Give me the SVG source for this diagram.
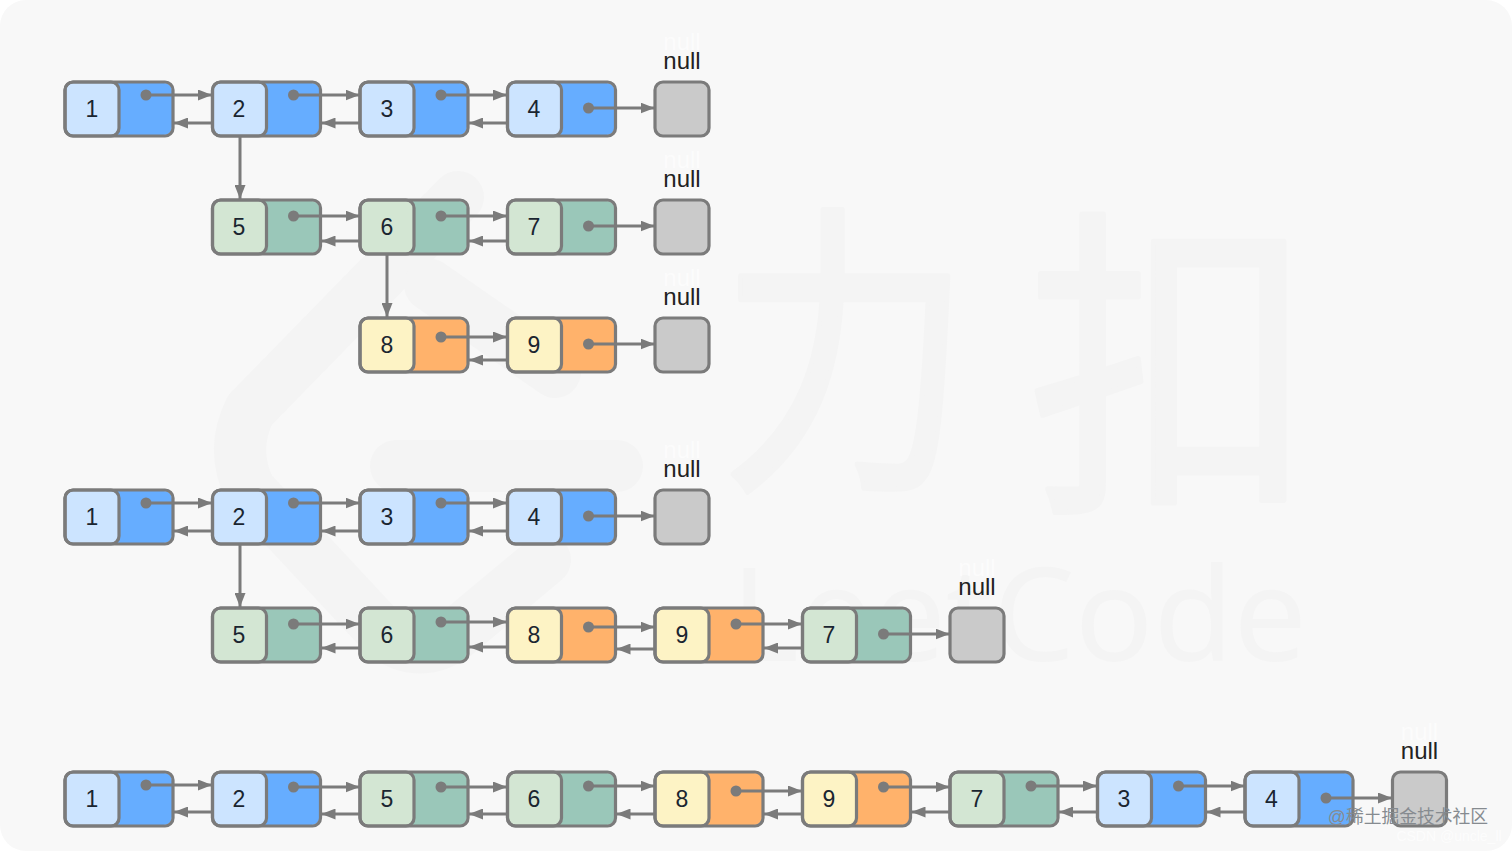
<svg xmlns="http://www.w3.org/2000/svg" xmlns:xlink="http://www.w3.org/1999/xlink" width="1512" height="851" viewBox="0 0 1512 851">
<style>
.wm{fill:none;stroke:#f4f4f4;stroke-width:52;stroke-linecap:round;stroke-linejoin:round}
.wt{fill:#f4f4f4;stroke:#f4f4f4;stroke-width:5;stroke-linejoin:round;font-family:"Noto Sans CJK SC","Noto Sans",sans-serif}
.wl{fill:#f4f4f4;font-family:"Noto Sans","Liberation Sans",sans-serif}
.o{fill:none;stroke:#7b7b7b;stroke-width:3.2}
.bl{fill:#66adff}.bll{fill:#cce4ff}
.gr{fill:#9ac7b9}.grl{fill:#d3e6d3}
.or{fill:#ffb26b}.orl{fill:#fdf3c5}
.nl{fill:#cacaca}
.n{font-family:"Liberation Sans",Arial,sans-serif;font-size:23px;fill:#1a2530;text-anchor:middle}
.t{font-family:"Liberation Sans",Arial,sans-serif;font-size:24px;fill:#222;text-anchor:middle}
.g{font-family:"Liberation Sans",Arial,sans-serif;font-size:24px;fill:#fff;text-anchor:middle;opacity:.6}
.c{fill:none;stroke:#7b7b7b;stroke-width:3;marker-end:url(#a)}
.d{fill:#7b7b7b}
</style>
<defs>
<marker id="a" markerUnits="userSpaceOnUse" markerWidth="15" markerHeight="11" refX="14" refY="5.500" orient="auto"><path d="M0 0L14 5.500L0 11Z" fill="#7b7b7b"/></marker>
<g id="blue"><rect class="bl" x="1" y="1" width="106" height="52" rx="8"/><rect class="bll" x="1" y="1" width="53" height="52" rx="8"/><rect class="o" x="0" y="0" width="108" height="54" rx="8"/><rect class="o" x="0" y="0" width="54" height="54" rx="8"/></g>
<g id="green"><rect class="gr" x="1" y="1" width="106" height="52" rx="8"/><rect class="grl" x="1" y="1" width="53" height="52" rx="8"/><rect class="o" x="0" y="0" width="108" height="54" rx="8"/><rect class="o" x="0" y="0" width="54" height="54" rx="8"/></g>
<g id="orange"><rect class="or" x="1" y="1" width="106" height="52" rx="8"/><rect class="orl" x="1" y="1" width="53" height="52" rx="8"/><rect class="o" x="0" y="0" width="108" height="54" rx="8"/><rect class="o" x="0" y="0" width="54" height="54" rx="8"/></g>
<g id="nullbox"><rect class="nl" x="0" y="0" width="54" height="54" rx="8"/><rect class="o" x="0" y="0" width="54" height="54" rx="8"/></g>
</defs>
<rect width="1512" height="851" fill="#fff"/>
<rect width="1512" height="851" rx="26" fill="#f8f8f8"/>
<g id="watermark">
<path class="wm" d="M458 197L250 410Q230 450 250 490L385 635Q420 660 455 635L545 560"/>
<path class="wm" d="M430 285L555 372"/>
<path class="wm" d="M396 466H617"/>
<text class="wt" transform="translate(719.500 466.500) scale(.9 1.094)" font-size="280">力</text>
<text class="wt" transform="translate(1028 486.500) scale(1.02 1.157)" font-size="280">扣</text>
<text class="wl" x="731" y="661" font-size="130">LeetCode</text>
</g>
<g id="n-a1"><use xlink:href="#blue" x="65" y="82"/><text class="n" x="92" y="116.800">1</text></g>
<g id="n-a2"><use xlink:href="#blue" x="212.500" y="82"/><text class="n" x="239" y="116.800">2</text></g>
<g id="n-a3"><use xlink:href="#blue" x="360" y="82"/><text class="n" x="387" y="116.800">3</text></g>
<g id="n-a4"><use xlink:href="#blue" x="507.500" y="82"/><text class="n" x="534" y="116.800">4</text></g>
<g id="n-a0"><use xlink:href="#nullbox" x="655" y="82"/><text class="g" x="682" y="50">null</text><text class="t" x="682" y="69">null</text></g>
<g id="n-b5"><use xlink:href="#green" x="212.500" y="200"/><text class="n" x="239" y="234.800">5</text></g>
<g id="n-b6"><use xlink:href="#green" x="360" y="200"/><text class="n" x="387" y="234.800">6</text></g>
<g id="n-b7"><use xlink:href="#green" x="507.500" y="200"/><text class="n" x="534" y="234.800">7</text></g>
<g id="n-b0"><use xlink:href="#nullbox" x="655" y="200"/><text class="g" x="682" y="168">null</text><text class="t" x="682" y="187">null</text></g>
<g id="n-c8"><use xlink:href="#orange" x="360" y="318"/><text class="n" x="387" y="352.800">8</text></g>
<g id="n-c9"><use xlink:href="#orange" x="507.500" y="318"/><text class="n" x="534" y="352.800">9</text></g>
<g id="n-c0"><use xlink:href="#nullbox" x="655" y="318"/><text class="g" x="682" y="286">null</text><text class="t" x="682" y="305">null</text></g>
<g id="n-d1"><use xlink:href="#blue" x="65" y="490"/><text class="n" x="92" y="524.800">1</text></g>
<g id="n-d2"><use xlink:href="#blue" x="212.500" y="490"/><text class="n" x="239" y="524.800">2</text></g>
<g id="n-d3"><use xlink:href="#blue" x="360" y="490"/><text class="n" x="387" y="524.800">3</text></g>
<g id="n-d4"><use xlink:href="#blue" x="507.500" y="490"/><text class="n" x="534" y="524.800">4</text></g>
<g id="n-d0"><use xlink:href="#nullbox" x="655" y="490"/><text class="g" x="682" y="458">null</text><text class="t" x="682" y="477">null</text></g>
<g id="n-e5"><use xlink:href="#green" x="212.500" y="608"/><text class="n" x="239" y="642.800">5</text></g>
<g id="n-e6"><use xlink:href="#green" x="360" y="608"/><text class="n" x="387" y="642.800">6</text></g>
<g id="n-e8"><use xlink:href="#orange" x="507.500" y="608"/><text class="n" x="534" y="642.800">8</text></g>
<g id="n-e9"><use xlink:href="#orange" x="655" y="608"/><text class="n" x="682" y="642.800">9</text></g>
<g id="n-e7"><use xlink:href="#green" x="802.500" y="608"/><text class="n" x="829" y="642.800">7</text></g>
<g id="n-e0"><use xlink:href="#nullbox" x="950" y="608"/><text class="g" x="977" y="576">null</text><text class="t" x="977" y="595">null</text></g>
<g id="n-f1"><use xlink:href="#blue" x="65" y="772"/><text class="n" x="92" y="806.800">1</text></g>
<g id="n-f2"><use xlink:href="#blue" x="212.500" y="772"/><text class="n" x="239" y="806.800">2</text></g>
<g id="n-f5"><use xlink:href="#green" x="360" y="772"/><text class="n" x="387" y="806.800">5</text></g>
<g id="n-f6"><use xlink:href="#green" x="507.500" y="772"/><text class="n" x="534" y="806.800">6</text></g>
<g id="n-f8"><use xlink:href="#orange" x="655" y="772"/><text class="n" x="682" y="806.800">8</text></g>
<g id="n-f9"><use xlink:href="#orange" x="802.500" y="772"/><text class="n" x="829" y="806.800">9</text></g>
<g id="n-f7"><use xlink:href="#green" x="950" y="772"/><text class="n" x="977" y="806.800">7</text></g>
<g id="n-f3"><use xlink:href="#blue" x="1097.500" y="772"/><text class="n" x="1124" y="806.800">3</text></g>
<g id="n-f4"><use xlink:href="#blue" x="1245" y="772"/><text class="n" x="1271.500" y="806.800">4</text></g>
<g id="n-f0"><use xlink:href="#nullbox" x="1392.500" y="772"/><text class="g" x="1419.500" y="740">null</text><text class="t" x="1419.500" y="759">null</text></g>
<g id="connectors">
<path class="c" d="M146 95H212"/><circle class="d" cx="146" cy="95" r="5.500"/><path class="c" d="M212 123H174"/>
<path class="c" d="M293.500 95H359.500"/><circle class="d" cx="293.500" cy="95" r="5.500"/><path class="c" d="M359.500 123H321.500"/>
<path class="c" d="M441 95H507"/><circle class="d" cx="441" cy="95" r="5.500"/><path class="c" d="M507 123H469"/>
<path class="c" d="M588.500 108H654.500"/><circle class="d" cx="588.500" cy="108" r="5.500"/>
<path class="c" d="M240 136V199"/>
<path class="c" d="M293.500 216H359.500"/><circle class="d" cx="293.500" cy="216" r="5.500"/><path class="c" d="M359.500 241H321.500"/>
<path class="c" d="M441 216H507"/><circle class="d" cx="441" cy="216" r="5.500"/><path class="c" d="M507 241H469"/>
<path class="c" d="M588.500 226H654.500"/><circle class="d" cx="588.500" cy="226" r="5.500"/>
<path class="c" d="M387 254V317"/>
<path class="c" d="M441 337H507"/><circle class="d" cx="441" cy="337" r="5.500"/><path class="c" d="M507 360H469"/>
<path class="c" d="M588.500 344H654.500"/><circle class="d" cx="588.500" cy="344" r="5.500"/>
<path class="c" d="M146 503H212"/><circle class="d" cx="146" cy="503" r="5.500"/><path class="c" d="M212 531H174"/>
<path class="c" d="M293.500 503H359.500"/><circle class="d" cx="293.500" cy="503" r="5.500"/><path class="c" d="M359.500 531H321.500"/>
<path class="c" d="M441 503H507"/><circle class="d" cx="441" cy="503" r="5.500"/><path class="c" d="M507 531H469"/>
<path class="c" d="M588.500 516H654.500"/><circle class="d" cx="588.500" cy="516" r="5.500"/>
<path class="c" d="M240 544V607"/>
<path class="c" d="M293.500 624H359.500"/><circle class="d" cx="293.500" cy="624" r="5.500"/><path class="c" d="M359.500 648H321.500"/>
<path class="c" d="M441 622H507"/><circle class="d" cx="441" cy="622" r="5.500"/><path class="c" d="M507 647H469"/>
<path class="c" d="M588.500 627H654.500"/><circle class="d" cx="588.500" cy="627" r="5.500"/><path class="c" d="M654.500 649H616.500"/>
<path class="c" d="M736 624H802"/><circle class="d" cx="736" cy="624" r="5.500"/><path class="c" d="M802 648H764"/>
<path class="c" d="M883.500 634H949.500"/><circle class="d" cx="883.500" cy="634" r="5.500"/>
<path class="c" d="M146 785H212"/><circle class="d" cx="146" cy="785" r="5.500"/><path class="c" d="M212 812H174"/>
<path class="c" d="M293.500 787H359.500"/><circle class="d" cx="293.500" cy="787" r="5.500"/><path class="c" d="M359.500 814H321.500"/>
<path class="c" d="M441 787H507"/><circle class="d" cx="441" cy="787" r="5.500"/><path class="c" d="M507 814H469"/>
<path class="c" d="M588.500 786H654.500"/><circle class="d" cx="588.500" cy="786" r="5.500"/><path class="c" d="M654.500 814H616.500"/>
<path class="c" d="M736 791H802"/><circle class="d" cx="736" cy="791" r="5.500"/><path class="c" d="M802 814H764"/>
<path class="c" d="M883.500 787H949.500"/><circle class="d" cx="883.500" cy="787" r="5.500"/><path class="c" d="M949.500 812H911.500"/>
<path class="c" d="M1031 786H1097"/><circle class="d" cx="1031" cy="786" r="5.500"/><path class="c" d="M1097 812H1059"/>
<path class="c" d="M1178.500 786H1244.500"/><circle class="d" cx="1178.500" cy="786" r="5.500"/><path class="c" d="M1244.500 812H1206.500"/>
<path class="c" d="M1326 798H1392"/><circle class="d" cx="1326" cy="798" r="5.500"/>
</g>
<text x="1408" y="823" font-size="17.800" fill="#868b90" text-anchor="middle" font-family="'Liberation Sans','Noto Sans CJK SC',sans-serif">@稀土掘金技术社区</text>
<text x="1449" y="841" font-size="14" fill="#fff" text-anchor="middle" font-family="'Liberation Sans',sans-serif" opacity=".7">CSDN @uncle_ll</text>
</svg>
